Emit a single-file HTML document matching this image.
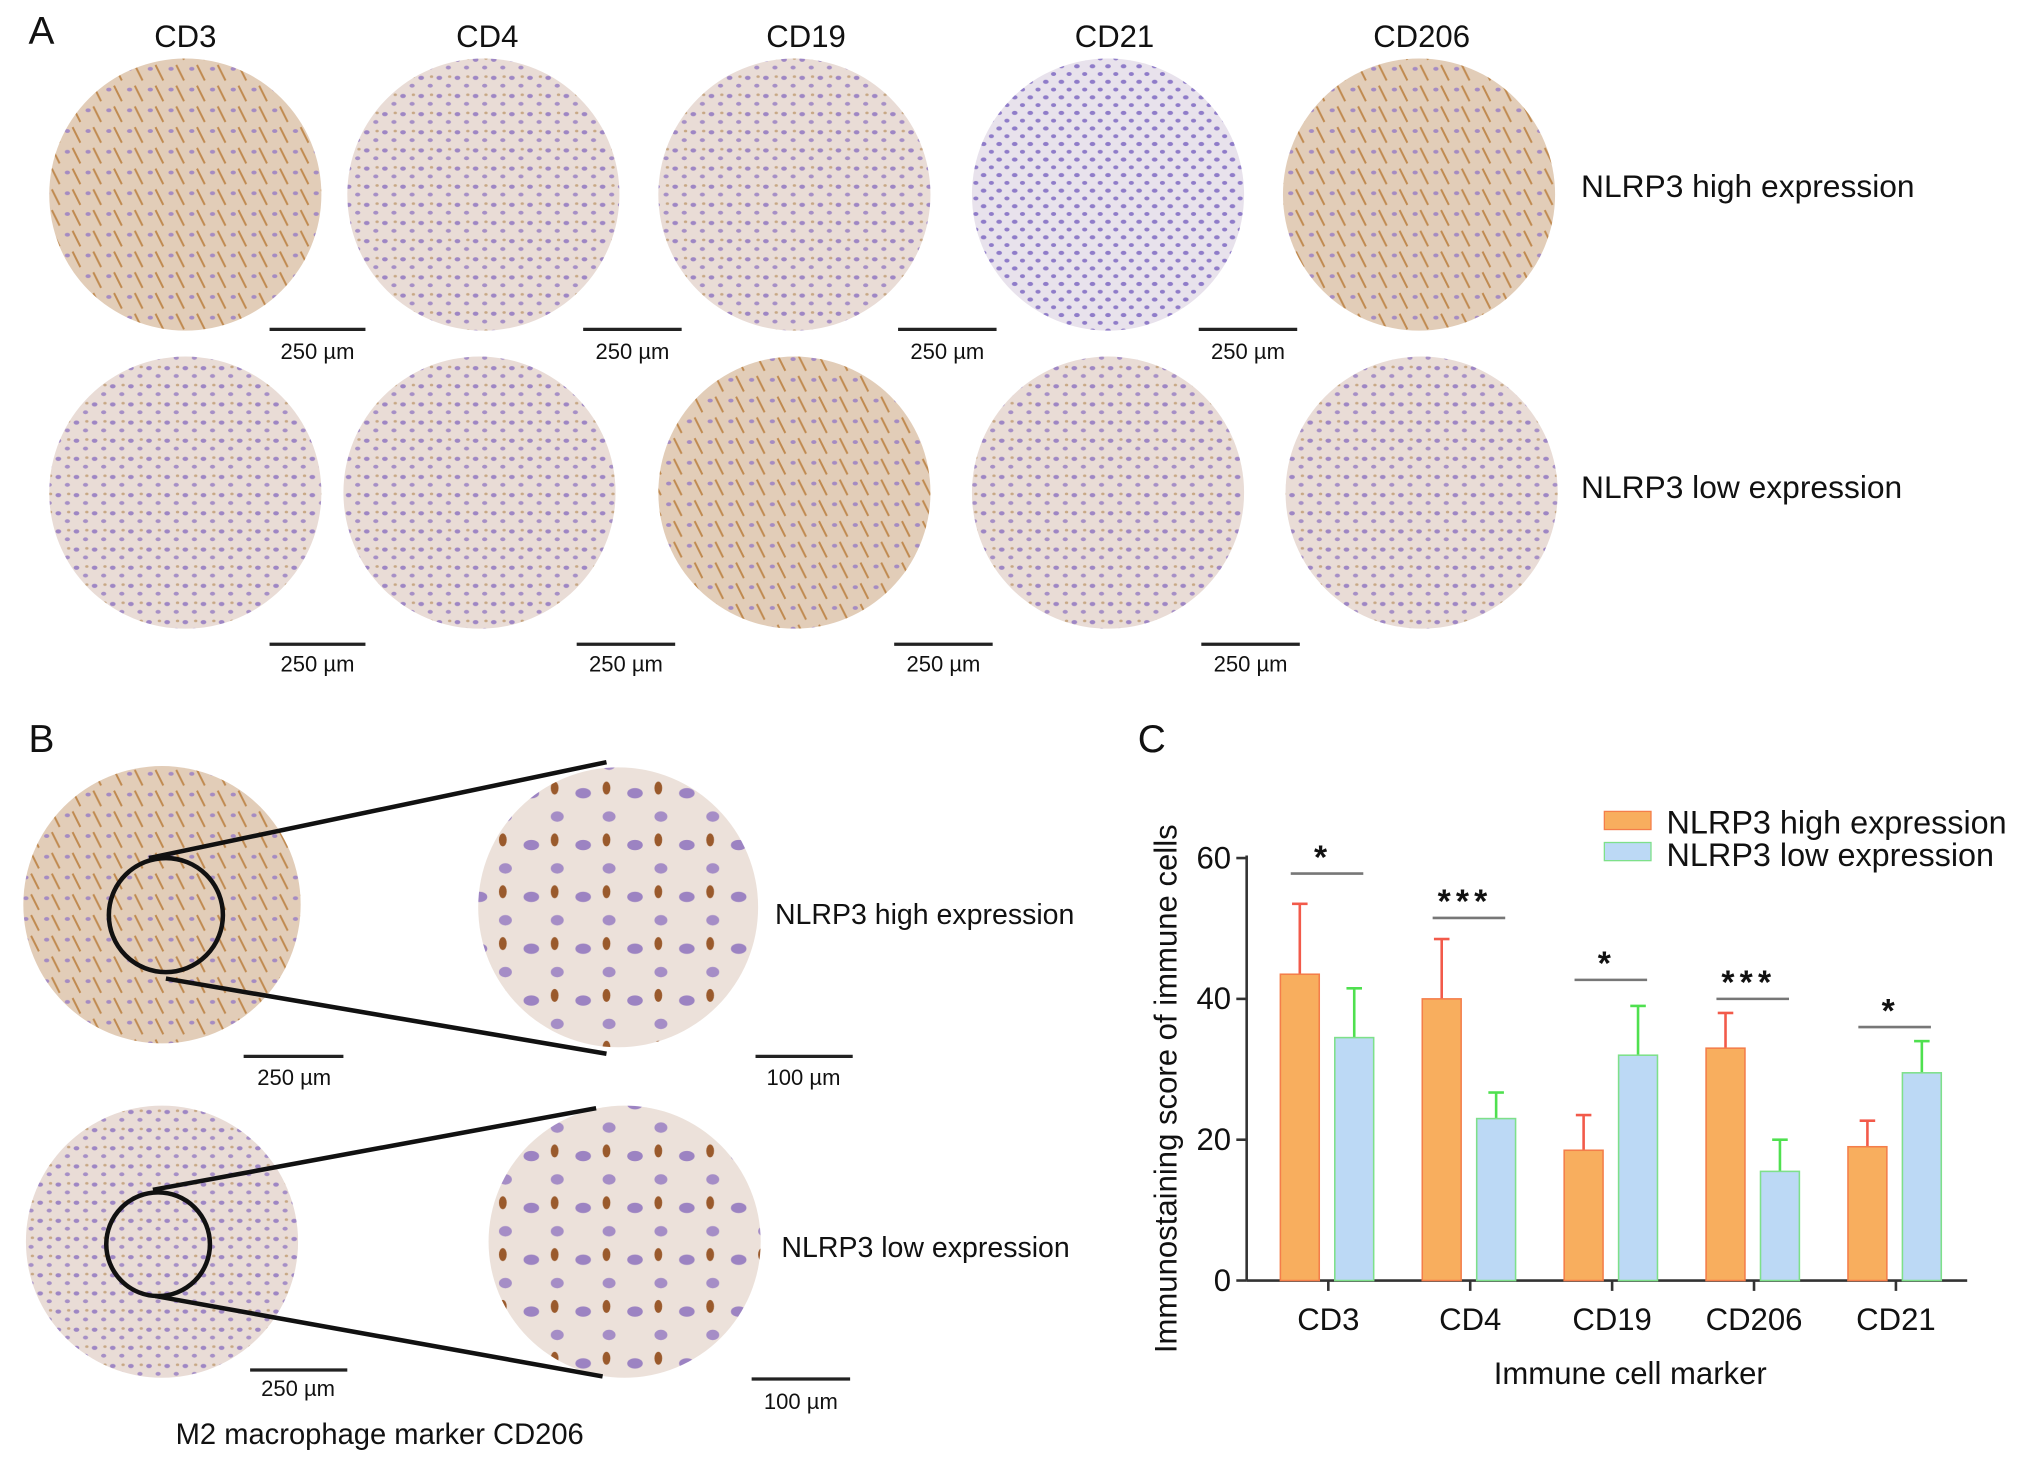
<!DOCTYPE html>
<html><head><meta charset="utf-8"><style>
html,body{margin:0;padding:0;background:#fff}
svg{display:block}
text{font-family:"Liberation Sans",sans-serif;fill:#111}
</style></head><body>
<svg id="fig" width="2032" height="1466" viewBox="0 0 1568 1131" xmlns="http://www.w3.org/2000/svg">
<defs>
<pattern id="tis" width="14" height="14" patternUnits="userSpaceOnUse">
<rect width="14" height="14" fill="#e9dcd6"/>
<ellipse cx="3" cy="4" rx="2.2" ry="1.6" fill="#9e86c4"/>
<ellipse cx="10" cy="10" rx="2" ry="1.5" fill="#a68fc6"/>
<ellipse cx="11" cy="3" rx="1.3" ry="1" fill="#c7a784"/>
</pattern>
<pattern id="tis2" width="16" height="16" patternUnits="userSpaceOnUse">
<rect width="16" height="16" fill="#e2cdb8"/>
<ellipse cx="4" cy="5" rx="2" ry="1.5" fill="#a58bc2"/>
<line x1="8" y1="2" x2="14" y2="14" stroke="#c08a50" stroke-width="1.5"/>
</pattern>
<pattern id="tis3" width="12" height="12" patternUnits="userSpaceOnUse">
<rect width="12" height="12" fill="#e8e2ec"/>
<ellipse cx="3" cy="3" rx="2.2" ry="1.6" fill="#8f7cc9"/>
<ellipse cx="9" cy="9" rx="2" ry="1.5" fill="#8f7cc9"/>
</pattern>
<pattern id="tisz" width="40" height="40" patternUnits="userSpaceOnUse">
<rect width="40" height="40" fill="#ece1da"/>
<ellipse cx="10" cy="12" rx="6" ry="4" fill="#9c83c2"/>
<ellipse cx="30" cy="30" rx="5" ry="4" fill="#a58dc6"/>
<ellipse cx="28" cy="8" rx="3" ry="5" fill="#9a5a2c"/>
</pattern>
</defs>

<g>
<text x="22" y="34" font-size="30">A</text>
<text x="143" y="36" font-size="24" text-anchor="middle">CD3</text>
<text x="376" y="36" font-size="24" text-anchor="middle">CD4</text>
<text x="622" y="36" font-size="24" text-anchor="middle">CD19</text>
<text x="860" y="36" font-size="24" text-anchor="middle">CD21</text>
<text x="1097" y="36" font-size="24" text-anchor="middle">CD206</text>
<circle cx="143" cy="150" r="105" fill="url(#tis2)"/>
<circle cx="373" cy="150" r="105" fill="url(#tis)"/>
<circle cx="613" cy="150" r="105" fill="url(#tis)"/>
<circle cx="855" cy="150" r="105" fill="url(#tis3)"/>
<circle cx="1095" cy="150" r="105" fill="url(#tis2)"/>
<circle cx="143" cy="380" r="105" fill="url(#tis)"/>
<circle cx="370" cy="380" r="105" fill="url(#tis)"/>
<circle cx="613" cy="380" r="105" fill="url(#tis2)"/>
<circle cx="855" cy="380" r="105" fill="url(#tis)"/>
<circle cx="1097" cy="380" r="105" fill="url(#tis)"/>
<g stroke="#222" stroke-width="2.5">
<line x1="208" y1="254" x2="282" y2="254"/><line x1="450" y1="254" x2="526" y2="254"/>
<line x1="693" y1="254" x2="769" y2="254"/><line x1="925" y1="254" x2="1001" y2="254"/>
<line x1="208" y1="497" x2="282" y2="497"/><line x1="445" y1="497" x2="521" y2="497"/>
<line x1="690" y1="497" x2="766" y2="497"/><line x1="927" y1="497" x2="1003" y2="497"/>
</g>
<g font-size="17" text-anchor="middle">
<text x="245" y="277">250 µm</text><text x="488" y="277">250 µm</text><text x="731" y="277">250 µm</text><text x="963" y="277">250 µm</text>
<text x="245" y="518">250 µm</text><text x="483" y="518">250 µm</text><text x="728" y="518">250 µm</text><text x="965" y="518">250 µm</text>
</g>
<text x="1220" y="152" font-size="24.5">NLRP3 high expression</text>
<text x="1220" y="384" font-size="24.5">NLRP3 low expression</text>
</g>

<g>
<text x="22" y="580" font-size="30">B</text>
<circle cx="125" cy="698" r="107" fill="url(#tis2)"/>
<circle cx="477" cy="700" r="108" fill="url(#tisz)"/>
<circle cx="125" cy="958" r="105" fill="url(#tis)"/>
<circle cx="482" cy="958" r="105" fill="url(#tisz)"/>
<g stroke="#111" stroke-width="3.5" fill="none">
<circle cx="128" cy="706" r="44"/><circle cx="122" cy="960" r="40"/>
<line x1="115" y1="662" x2="468" y2="588"/><line x1="128" y1="755" x2="468" y2="813"/>
<line x1="118" y1="918" x2="460" y2="855"/><line x1="120" y1="1000" x2="465" y2="1062"/>
</g>
<g stroke="#222" stroke-width="2.5">
<line x1="188" y1="815" x2="265" y2="815"/><line x1="583" y1="815" x2="658" y2="815"/>
<line x1="193" y1="1057" x2="268" y2="1057"/><line x1="580" y1="1064" x2="656" y2="1064"/>
</g>
<g font-size="17" text-anchor="middle">
<text x="227" y="837">250 µm</text><text x="620" y="837">100 µm</text>
<text x="230" y="1077">250 µm</text><text x="618" y="1087">100 µm</text>
</g>
<text x="598" y="713" font-size="22">NLRP3 high expression</text>
<text x="603" y="970" font-size="22">NLRP3 low expression</text>
<text x="293" y="1114" font-size="22.5" text-anchor="middle">M2 macrophage marker CD206</text>
</g>

<g id="chart">
<text x="878" y="580" font-size="30">C</text>
</g>
</svg>
<script>
const categories = ["CD3","CD4","CD19","CD206","CD21"];
const highValues = [43.5, 40, 18.5, 33, 19];
const highErrors = [10, 8.5, 5, 5, 3.7];
const lowValues = [34.5, 23, 32, 15.5, 29.5];
const lowErrors = [7, 3.7, 7, 4.5, 4.5];
const sigLabels = ["*","***","*","***","*"];
const sigLevels = [57.8, 51.5, 42.7, 40, 36];
const yTicks = [0, 20, 40, 60];

const NS = "http://www.w3.org/2000/svg";
const g = document.getElementById("chart");
const x0 = 962, x1 = 1518, yB = 988, yT = 662;
const y = v => yB - (v / 60) * (yB - yT);
const groupX = i => 1025 + i * 109.5;
function mk(tag, attrs, txt) {
  const e = document.createElementNS(NS, tag);
  for (const k in attrs) e.setAttribute(k, attrs[k]);
  if (txt !== undefined) e.textContent = txt;
  g.appendChild(e);
  return e;
}
let e;
e = mk("line", {x1: x0, y1: yT - 2, x2: x0, y2: yB, stroke: "#333", "stroke-width": 2});


e = mk("line", {x1: x0, y1: yB, x2: x1, y2: yB, stroke: "#333", "stroke-width": 2});


yTicks.forEach(t => {
  e = mk("line", {x1: x0 - 8, y1: y(t), x2: x0, y2: y(t), stroke: "#333", "stroke-width": 2});
  
  
  e = mk("text", {x: x0 - 12, y: y(t) + 8, "font-size": 24, "text-anchor": "end"}, String(t));
  
  
});
const bw = 30;
categories.forEach((c, i) => {
  const gx = groupX(i);
  e = mk("line", {x1: gx, y1: yB, x2: gx, y2: yB + 8, stroke: "#333", "stroke-width": 2});
  
  
  e = mk("text", {x: gx, y: yB + 38, "font-size": 24, "text-anchor": "middle"}, c);
  
  
  const hx = gx - 37, lx = gx + 5;
  [[hx, highValues[i], highErrors[i], "#f25a4a"], [lx, lowValues[i], lowErrors[i], "#4fe04f"]].forEach(([bx, v, er, col]) => {
    e = mk("line", {x1: bx + bw / 2, y1: y(v), x2: bx + bw / 2, y2: y(v + er), stroke: col, "stroke-width": 2});
    
    
    e = mk("line", {x1: bx + bw / 2 - 6, y1: y(v + er), x2: bx + bw / 2 + 6, y2: y(v + er), stroke: col, "stroke-width": 2});
    
    
  });
  e = mk("rect", {x: hx, y: y(highValues[i]), width: bw, height: yB - y(highValues[i]), fill: "#f8ae5e", stroke: "#f47e4a", "stroke-width": 1.2});
  
  
  e = mk("rect", {x: lx, y: y(lowValues[i]), width: bw, height: yB - y(lowValues[i]), fill: "#bcd9f5", stroke: "#7ee08a", "stroke-width": 1.2});
  
  
  const sy = y(sigLevels[i]);
  e = mk("line", {x1: hx + 8, y1: sy, x2: lx + 22, y2: sy, stroke: "#777", "stroke-width": 2});
  
  
  e = mk("text", {x: gx - 4, y: sy - 4, "font-size": 26, "font-weight": "bold", "text-anchor": "middle", "letter-spacing": 4}, sigLabels[i]);
  
  
});
e = mk("text", {x: 0, y: 0, "font-size": 24, "text-anchor": "middle", transform: "translate(908,840) rotate(-90)"}, "Immunostaining score of immune cells");


e = mk("text", {x: 1258, y: 1068, "font-size": 24, "text-anchor": "middle"}, "Immune cell marker");


e = mk("rect", {x: 1238, y: 626, width: 36, height: 14, fill: "#f8ae5e", stroke: "#f47e4a"});


e = mk("text", {x: 1286, y: 643, "font-size": 25}, "NLRP3 high expression");


e = mk("rect", {x: 1238, y: 650, width: 36, height: 14, fill: "#bcd9f5", stroke: "#7ee08a"});


e = mk("text", {x: 1286, y: 668, "font-size": 25}, "NLRP3 low expression");


</script>
</body></html>
